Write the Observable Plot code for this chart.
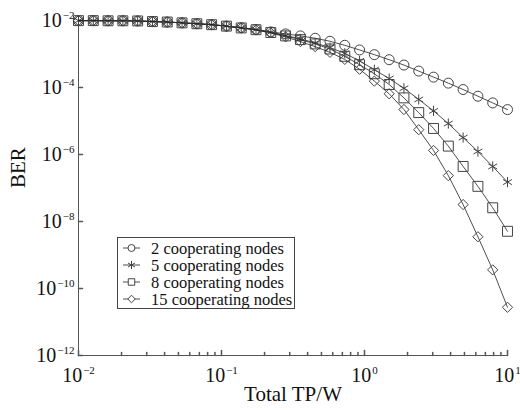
<!DOCTYPE html>
<html><head><meta charset="utf-8">
<script src="https://cdn.jsdelivr.net/npm/d3@7"></script>
<script src="https://cdn.jsdelivr.net/npm/@observablehq/plot@0.6"></script>
<style>body{margin:0;background:#fff;} svg{font-family:"Liberation Serif",serif;}</style>
</head><body><div id="chart"></div><script>
// Total transmit power (W), 30 log-spaced points
const totalTP = [0.01, 0.012690, 0.016103, 0.020434, 0.025929, 0.032903, 0.041753, 0.052983, 0.067234, 0.085317,
  0.10826, 0.13738, 0.17433, 0.22122, 0.28072, 0.35622, 0.45204, 0.57362, 0.72790, 0.92367,
  1.1721, 1.4874, 1.8874, 2.3950, 3.0392, 3.8566, 4.8939, 6.2102, 7.8805, 10];

const ber2 = [9.9e-3, 9.9e-3, 9.8e-3, 9.8e-3, 9.7e-3, 9.3e-3, 9.0e-3, 8.5e-3, 8.0e-3, 7.5e-3,
  6.8e-3, 6.1e-3, 5.4e-3, 4.57e-3, 3.98e-3, 3.47e-3, 2.95e-3, 2.40e-3, 1.82e-3, 1.32e-3,
  9.55e-4, 6.76e-4, 4.68e-4, 3.09e-4, 2.04e-4, 1.35e-4, 8.7e-5, 5.5e-5, 3.47e-5, 2.19e-5];
const ber5 = [9.9e-3, 9.9e-3, 9.8e-3, 9.8e-3, 9.7e-3, 9.3e-3, 9.0e-3, 8.5e-3, 8.0e-3, 7.5e-3,
  6.8e-3, 6.05e-3, 5.35e-3, 4.47e-3, 3.55e-3, 2.82e-3, 2.14e-3, 1.55e-3, 1.05e-3, 6.2e-4,
  3.4e-4, 1.85e-4, 9.5e-5, 4.4e-5, 2.0e-5, 8.4e-6, 3.2e-6, 1.23e-6, 4.4e-7, 1.5e-7];
const ber8 = [9.9e-3, 9.9e-3, 9.8e-3, 9.8e-3, 9.7e-3, 9.3e-3, 9.0e-3, 8.5e-3, 8.0e-3, 7.5e-3,
  6.8e-3, 6.0e-3, 5.3e-3, 4.37e-3, 3.47e-3, 2.69e-3, 2.0e-3, 1.41e-3, 8.5e-4, 4.8e-4,
  2.57e-4, 1.23e-4, 4.9e-5, 1.78e-5, 6.0e-6, 1.78e-6, 4.4e-7, 1.12e-7, 2.57e-8, 5.1e-9];
const ber15 = [9.9e-3, 9.9e-3, 9.8e-3, 9.8e-3, 9.7e-3, 9.3e-3, 9.0e-3, 8.5e-3, 8.0e-3, 7.5e-3,
  6.8e-3, 5.95e-3, 5.2e-3, 4.27e-3, 3.24e-3, 2.34e-3, 1.66e-3, 1.12e-3, 6.9e-4, 3.5e-4,
  1.55e-4, 6.5e-5, 2.2e-5, 5.5e-6, 1.32e-6, 2.34e-7, 3.2e-8, 3.5e-9, 3.6e-10, 2.75e-11];

const seriesLabels = ["2 cooperating nodes", "5 cooperating nodes", "8 cooperating nodes", "15 cooperating nodes"];
const seriesSymbols = ["circle", "asterisk", "square", "diamond2"];
const seriesValues = [ber2, ber5, ber8, ber15];

const xMajor = [1e-2, 1e-1, 1, 10];
const xMajorExp = ["\u22122", "\u22121", "0", "1"];
const xMinor = [2e-2,3e-2,4e-2,5e-2,6e-2,7e-2,8e-2,9e-2, 2e-1,3e-1,4e-1,5e-1,6e-1,7e-1,8e-1,9e-1, 2,3,4,5,6,7,8,9];
const yMajor = [1e-2, 1e-4, 1e-6, 1e-8, 1e-10, 1e-12];
const yMajorExp = ["\u22122", "\u22124", "\u22126", "\u22128", "\u221210", "\u221212"];

const markerR = {circle: 5, asterisk: 4.8, square: 5.6, diamond2: 4.6};
const d3Sym = {circle: d3.symbolCircle, asterisk: d3.symbolAsterisk, square: d3.symbolSquare, diamond2: d3.symbolDiamond2};

const rows = [];
seriesValues.forEach((vals, s) => vals.forEach((v, i) => rows.push({tp: totalTP[i], ber: v, s})));

const tickShape = {draw(ctx, l) { ctx.moveTo(0, 0); ctx.lineTo(0, -l); }};
const axisColor = "#555";

const marks = [
  Plot.ruleX([1e-2], {stroke: axisColor, strokeWidth: 1}),
  Plot.ruleY([1e-12], {stroke: axisColor, strokeWidth: 1}),
  Plot.vector(xMajor, {x: d => d, y: () => 1e-12, length: 5, anchor: "start", shape: tickShape, stroke: axisColor}),
  Plot.vector(xMinor, {x: d => d, y: () => 1e-12, length: 3, anchor: "start", shape: tickShape, stroke: axisColor}),
  Plot.vector(yMajor, {x: () => 1e-2, y: d => d, length: 4, rotate: 90, anchor: "start", shape: tickShape, stroke: axisColor}),
  Plot.axisX({ticks: xMajor, tickSize: 0, tickPadding: 12, fontSize: 20, label: null,
    tickFormat: d => "10|" + xMajorExp[xMajor.indexOf(d)]}),
  Plot.axisY({ticks: yMajor, tickSize: 0, tickPadding: 4, fontSize: 20, label: null,
    tickFormat: d => "10|" + yMajorExp[yMajor.indexOf(d)]}),
];
seriesValues.forEach((vals, s) => {
  const data = rows.filter(r => r.s === s);
  marks.push(Plot.line(data, {x: "tp", y: "ber", stroke: "#222", strokeWidth: 0.8}));
  marks.push(Plot.dot(data, {x: "tp", y: "ber", symbol: () => seriesSymbols[s], r: markerR[seriesSymbols[s]],
    stroke: "#444", strokeWidth: 1, fill: "none"}));
});
marks.push(Plot.text(["BER"], {text: d => d, frameAnchor: "left", dx: -60, rotate: -90, fontSize: 21, fill: "#111"}));
marks.push(Plot.text(["Total TP/W"], {text: d => d, frameAnchor: "bottom", dy: 45, fontSize: 21, fill: "#111"}));

const plot = Plot.plot({
  width: 520, height: 410,
  marginLeft: 78, marginRight: 13, marginTop: 20, marginBottom: 55,
  style: {fontFamily: "'Liberation Serif', serif", background: "#fff", color: "#111", overflow: "visible"},
  x: {type: "log", domain: [1e-2, 10]},
  y: {type: "log", domain: [1e-12, 1e-2]},
  symbol: {type: "identity"},
  marks
});

const svg = d3.select(plot);
svg.selectAll('g[aria-label="x-axis tick label"] text, g[aria-label="y-axis tick label"] text').each(function() {
  const t = d3.select(this);
  const parts = t.text().split("|");
  t.text(null);
  t.append("tspan").text(parts[0]);
  t.append("tspan").attr("dy", -8).attr("dx", 1).attr("font-size", 11).text(parts[1]);
});

// legend
const lg = svg.append("g").attr("text-anchor", "start");
lg.append("rect").attr("x", 117.5).attr("y", 237.5).attr("width", 177).attr("height", 71)
  .attr("fill", "white").attr("stroke", "#444");
const legSize = {circle: 38, asterisk: 45, square: 42, diamond2: 36};
seriesLabels.forEach((lab, i) => {
  const y = 248 + i * 17;
  lg.append("line").attr("x1", 123).attr("x2", 140).attr("y1", y).attr("y2", y).attr("stroke", "#222").attr("stroke-width", 0.8);
  lg.append("path").attr("d", d3.symbol(d3Sym[seriesSymbols[i]], legSize[seriesSymbols[i]])())
    .attr("transform", `translate(131.5,${y})`).attr("fill", "white").attr("stroke", "#444");
  lg.append("text").attr("x", 151).attr("y", y).attr("dy", "0.35em").attr("font-size", 16.5)
    .attr("text-anchor", "start").attr("fill", "#111").text(lab);
});

document.getElementById("chart").appendChild(plot);
</script></body></html>
